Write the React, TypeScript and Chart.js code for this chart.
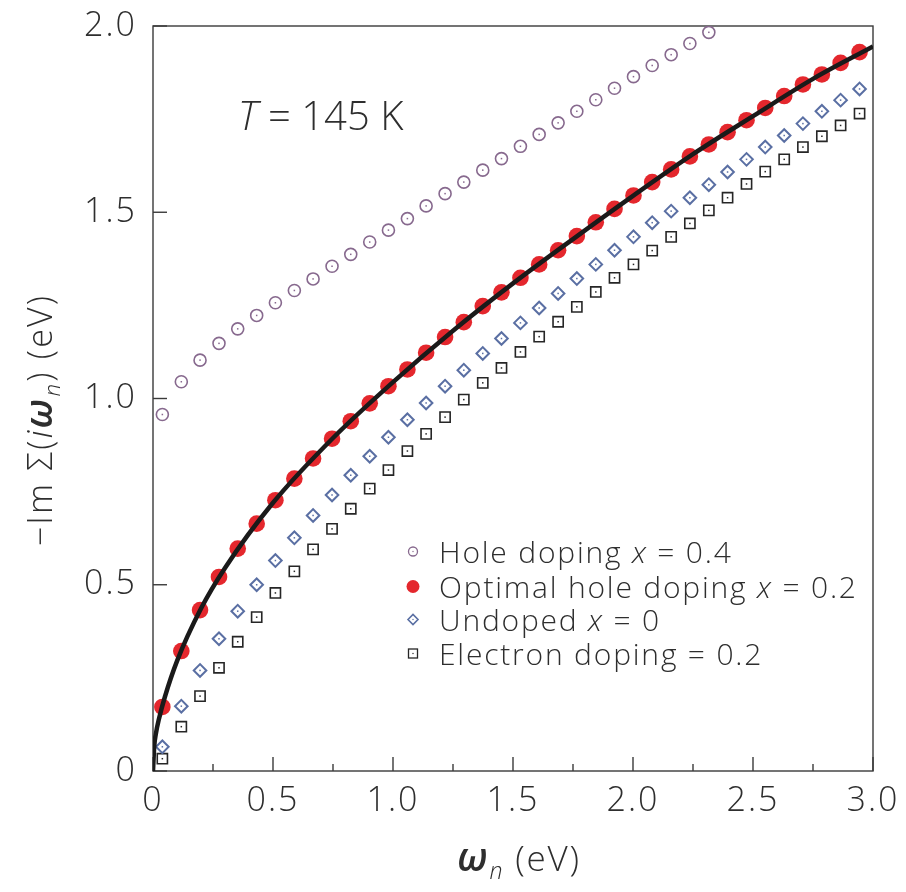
import React, { useEffect, useRef } from 'react';
import { Chart, registerables } from 'chart.js';

Chart.register(...registerables);

// Matsubara frequencies ω_n (eV) at T = 145 K
const omegaN = [
  0.039, 0.118, 0.196, 0.275, 0.353, 0.432, 0.510, 0.589, 0.667, 0.746,
  0.824, 0.903, 0.981, 1.060, 1.138, 1.217, 1.295, 1.374, 1.452, 1.531,
  1.609, 1.688, 1.766, 1.845, 1.923, 2.002, 2.080, 2.159, 2.237, 2.316,
  2.394, 2.473, 2.551, 2.630, 2.708, 2.787, 2.865, 2.944,
];

// -Im Σ(iω_n) (eV) for each doping
const holeDoping04 = [
  0.957, 1.045, 1.103, 1.148, 1.187, 1.223, 1.257, 1.290, 1.321, 1.355,
  1.387, 1.420, 1.452, 1.483, 1.517, 1.550, 1.581, 1.613, 1.644, 1.677,
  1.709, 1.740, 1.771, 1.802, 1.833, 1.864, 1.894, 1.923, 1.953, 1.983,
];
const optimalDoping02 = [
  0.172, 0.322, 0.432, 0.521, 0.597, 0.664, 0.727, 0.785, 0.839, 0.892,
  0.939, 0.987, 1.033, 1.078, 1.123, 1.165, 1.205, 1.248, 1.285, 1.324,
  1.360, 1.398, 1.436, 1.473, 1.509, 1.545, 1.581, 1.615, 1.650, 1.682,
  1.715, 1.747, 1.780, 1.812, 1.843, 1.870, 1.901, 1.930,
];
const undoped = [
  0.065, 0.174, 0.270, 0.355, 0.429, 0.500, 0.565, 0.626, 0.686, 0.741,
  0.794, 0.845, 0.896, 0.943, 0.988, 1.033, 1.076, 1.121, 1.161, 1.203,
  1.243, 1.282, 1.322, 1.360, 1.398, 1.434, 1.472, 1.503, 1.539, 1.574,
  1.608, 1.642, 1.675, 1.706, 1.738, 1.771, 1.801, 1.831,
];
const electronDoping02 = [
  0.033, 0.119, 0.201, 0.277, 0.347, 0.413, 0.478, 0.536, 0.595, 0.650,
  0.704, 0.758, 0.808, 0.859, 0.905, 0.950, 0.997, 1.042, 1.082, 1.125,
  1.166, 1.206, 1.246, 1.286, 1.324, 1.360, 1.397, 1.434, 1.470, 1.505,
  1.539, 1.576, 1.609, 1.642, 1.675, 1.704, 1.733, 1.765,
];

// Continuous fit through the optimal-doping data
const fitX = [0, 0.005, 0.012, 0.025, 0.05, 0.1, 0.2, 0.3, 0.5, 0.75, 1.0, 1.25, 1.5, 1.75, 2.0, 2.25, 2.5, 2.75, 3.0];
const fitY = [0, 0.065, 0.1, 0.14, 0.2, 0.295, 0.436, 0.545, 0.72, 0.894, 1.044, 1.182, 1.309, 1.428, 1.544, 1.656, 1.758, 1.858, 1.945];

const xTickValues = [0, 0.5, 1.0, 1.5, 2.0, 2.5, 3.0];
const yTickValues = [0, 0.5, 1.0, 1.5, 2.0];

const legendRows = [
  { key: 'hole', runs: [{ t: 'Hole doping ' }, { t: 'x', it: true }, { t: ' = 0.4' }] },
  { key: 'optimal', runs: [{ t: 'Optimal hole doping ' }, { t: 'x', it: true }, { t: ' = 0.2' }] },
  { key: 'undoped', runs: [{ t: 'Undoped ' }, { t: 'x', it: true }, { t: ' = 0' }] },
  { key: 'electron', runs: [{ t: 'Electron doping = 0.2' }] },
];

const FAMILY = '"Open Sans", Lato, sans-serif';
const WEIGHT = '300';
const TEXT = '#2e2e2e';

const COLORS = {
  hole: '#87698e',
  optimal: '#e4272d',
  undoped: '#5a6fa3',
  electron: '#262626',
  fit: '#1a1a1a',
  axis: '#3a3a3a',
};

type Run = { t: string; it?: boolean; sub?: boolean; heavy?: boolean; big?: boolean };

function runFont(r: Run, size: number) {
  let s = r.sub ? size * 0.66 : size;
  if (r.big) s *= 1.12;
  const w = r.heavy ? '600' : WEIGHT;
  return `${r.it ? 'italic ' : ''}${w} ${s}px ${FAMILY}`;
}

function drawRuns(
  ctx: CanvasRenderingContext2D,
  runs: Run[],
  x: number,
  y: number,
  size: number,
  align: 'left' | 'center',
  spacing = 0
) {
  const c = ctx as any;
  c.letterSpacing = `${spacing}px`;
  let total = 0;
  runs.forEach((r) => {
    ctx.font = runFont(r, size);
    total += ctx.measureText(r.t).width;
  });
  let cx = align === 'center' ? x - total / 2 : x;
  ctx.textAlign = 'left';
  ctx.textBaseline = 'alphabetic';
  runs.forEach((r) => {
    ctx.font = runFont(r, size);
    ctx.fillText(r.t, cx, r.sub ? y + size * 0.24 : y);
    cx += ctx.measureText(r.t).width;
  });
  c.letterSpacing = '0px';
}

function toPoints(ys: number[]) {
  return ys.map((y, i) => ({ x: omegaN[i], y }));
}

function drawMarker(ctx: CanvasRenderingContext2D, key: string, x: number, y: number) {
  ctx.save();
  if (key === 'hole') {
    ctx.strokeStyle = COLORS.hole;
    ctx.lineWidth = 1.3;
    ctx.beginPath();
    ctx.arc(x, y, 4.5, 0, Math.PI * 2);
    ctx.stroke();
    ctx.fillStyle = COLORS.hole;
    ctx.fillRect(x - 0.6, y - 0.6, 1.2, 1.2);
  } else if (key === 'optimal') {
    ctx.fillStyle = COLORS.optimal;
    ctx.beginPath();
    ctx.arc(x, y, 6.5, 0, Math.PI * 2);
    ctx.fill();
  } else if (key === 'undoped') {
    ctx.strokeStyle = COLORS.undoped;
    ctx.lineWidth = 1.6;
    ctx.beginPath();
    ctx.moveTo(x - 5, y);
    ctx.lineTo(x, y - 5);
    ctx.lineTo(x + 5, y);
    ctx.lineTo(x, y + 5);
    ctx.closePath();
    ctx.stroke();
    ctx.fillStyle = COLORS.undoped;
    ctx.fillRect(x - 0.6, y - 0.6, 1.2, 1.2);
  } else {
    ctx.strokeStyle = COLORS.electron;
    ctx.lineWidth = 1.3;
    ctx.strokeRect(x - 4.5, y - 4.5, 9, 9);
    ctx.fillStyle = COLORS.electron;
    ctx.fillRect(x - 0.6, y - 0.6, 1.2, 1.2);
  }
  ctx.restore();
}

// Wider tracking for the tick labels drawn by the scales
const tickTracking = {
  id: 'tickTracking',
  beforeDraw(chart: any) {
    chart.ctx.letterSpacing = '2px';
  },
  beforeDatasetsDraw(chart: any) {
    chart.ctx.letterSpacing = '0px';
  },
};

const frameAndTicks = {
  id: 'frameAndTicks',
  beforeDatasetsDraw(chart: any) {
    const { ctx, chartArea: a, scales } = chart;
    ctx.save();
    ctx.strokeStyle = COLORS.axis;
    ctx.lineWidth = 1.4;
    ctx.strokeRect(a.left, a.top, a.right - a.left, a.bottom - a.top);
    scales.x.ticks.forEach((t: any) => {
      const px = scales.x.getPixelForValue(t.value);
      const major = Math.abs(t.value * 2 - Math.round(t.value * 2)) < 1e-6;
      const len = major ? 14 : 7;
      ctx.beginPath();
      ctx.moveTo(px, a.bottom);
      ctx.lineTo(px, a.bottom - len);
      ctx.stroke();
    });
    scales.y.ticks.forEach((t: any) => {
      const py = scales.y.getPixelForValue(t.value);
      ctx.beginPath();
      ctx.moveTo(a.left, py);
      ctx.lineTo(a.left + 14, py);
      ctx.stroke();
    });
    ctx.restore();
  },
};

// Small dots in the centre of the open markers
const centreDots = {
  id: 'centreDots',
  afterDatasetsDraw(chart: any) {
    const { ctx } = chart;
    ctx.save();
    chart.data.datasets.forEach((ds: any, i: number) => {
      if (!ds.centreDot) return;
      ctx.fillStyle = ds.borderColor;
      chart.getDatasetMeta(i).data.forEach((el: any) => {
        ctx.fillRect(el.x - 0.75, el.y - 0.75, 1.5, 1.5);
      });
    });
    ctx.restore();
  },
};

const annotations = {
  id: 'annotations',
  afterDraw(chart: any) {
    const { ctx, chartArea: a } = chart;
    ctx.save();
    ctx.fillStyle = TEXT;

    // Temperature label
    drawRuns(ctx, [{ t: 'T', it: true }, { t: ' = 145 K' }], a.left + 85, 130, 40, 'left', 0);

    // Legend
    const lx = a.left + 260;
    const rowY = [551.5, 586.5, 619.5, 653.5];
    legendRows.forEach((row, i) => {
      drawMarker(ctx, row.key, lx, rowY[i]);
      ctx.fillStyle = TEXT;
      drawRuns(ctx, row.runs, lx + 26, rowY[i] + 11, 30, 'left', 1.8);
    });

    // x-axis title
    drawRuns(
      ctx,
      [{ t: 'ω', it: true, heavy: true, big: true }, { t: 'n', it: true, sub: true }, { t: ' (eV)' }],
      519,
      871,
      35,
      'center',
      1.8
    );

    // y-axis title
    ctx.save();
    ctx.translate(52, 420);
    ctx.rotate(-Math.PI / 2);
    drawRuns(
      ctx,
      [
        { t: '−Im Σ(' },
        { t: 'i', it: true },
        { t: 'ω', it: true, heavy: true, big: true },
        { t: 'n', it: true, sub: true },
        { t: ') (eV)' },
      ],
      0,
      0,
      34,
      'center',
      2.2
    );
    ctx.restore();
    ctx.restore();
  },
};

export default function App() {
  const ref = useRef<HTMLCanvasElement>(null);

  useEffect(() => {
    document.body.style.margin = '0';
    const tickFont = { family: FAMILY, size: 34, weight: WEIGHT as any };
    const chart = new Chart(ref.current as HTMLCanvasElement, {
      type: 'scatter',
      data: {
        datasets: [
          {
            label: 'fit',
            data: fitX.map((x, i) => ({ x, y: fitY[i] })),
            showLine: true,
            borderColor: COLORS.fit,
            borderWidth: 4.5,
            pointRadius: 0,
            cubicInterpolationMode: 'monotone',
            fill: false,
            order: 0,
          } as any,
          {
            label: 'Optimal hole doping x = 0.2',
            data: toPoints(optimalDoping02),
            pointStyle: 'circle',
            pointRadius: 8.3,
            backgroundColor: COLORS.optimal,
            borderColor: COLORS.optimal,
            borderWidth: 0,
            order: 1,
          },
          {
            label: 'Hole doping x = 0.4',
            data: toPoints(holeDoping04),
            pointStyle: 'circle',
            pointRadius: 6,
            backgroundColor: 'rgba(255,255,255,0)',
            borderColor: COLORS.hole,
            borderWidth: 1.6,
            centreDot: true,
            order: 2,
          } as any,
          {
            label: 'Undoped x = 0',
            data: toPoints(undoped),
            pointStyle: 'rectRot',
            pointRadius: 6.3,
            backgroundColor: 'rgba(255,255,255,0)',
            borderColor: COLORS.undoped,
            borderWidth: 2,
            centreDot: true,
            order: 3,
          } as any,
          {
            label: 'Electron doping = 0.2',
            data: toPoints(electronDoping02),
            pointStyle: 'rect',
            pointRadius: 7.2,
            backgroundColor: 'rgba(255,255,255,0)',
            borderColor: COLORS.electron,
            borderWidth: 1.6,
            centreDot: true,
            order: 4,
          } as any,
        ],
      },
      options: {
        animation: false,
        responsive: true,
        maintainAspectRatio: false,
        events: [],
        layout: { padding: { top: 26, right: 33, left: 0, bottom: 0 } },
        plugins: { legend: { display: false }, tooltip: { enabled: false } },
        scales: {
          x: {
            type: 'linear',
            min: 0,
            max: 3,
            afterFit: (s: any) => {
              s.height = 121;
              s.paddingLeft = 0;
              s.paddingRight = 0;
            },
            grid: { display: false, drawTicks: false },
            border: { display: false },
            ticks: {
              stepSize: 0.25,
              autoSkip: false,
              maxRotation: 0,
              padding: 10,
              color: TEXT,
              font: tickFont,
              callback: (v: any) => {
                const n = Number(v);
                if (!xTickValues.some((t) => Math.abs(t - n) < 1e-6)) return '';
                return n === 0 ? '0' : n.toFixed(1);
              },
            },
          },
          y: {
            type: 'linear',
            min: 0,
            max: 2,
            afterFit: (s: any) => {
              s.width = 153;
              s.paddingTop = 0;
              s.paddingBottom = 0;
            },
            grid: { display: false, drawTicks: false },
            border: { display: false },
            ticks: {
              stepSize: 0.5,
              autoSkip: false,
              padding: 16,
              color: TEXT,
              font: tickFont,
              callback: (v: any) => {
                const n = Number(v);
                if (!yTickValues.some((t) => Math.abs(t - n) < 1e-6)) return '';
                return n === 0 ? '0' : n.toFixed(1);
              },
            },
          },
        },
      },
      plugins: [tickTracking, frameAndTicks, centreDots, annotations],
    });
    return () => chart.destroy();
  }, []);

  return (
    <div style={{ width: 906, height: 892, position: 'relative' }}>
      <canvas ref={ref} />
    </div>
  );
}
